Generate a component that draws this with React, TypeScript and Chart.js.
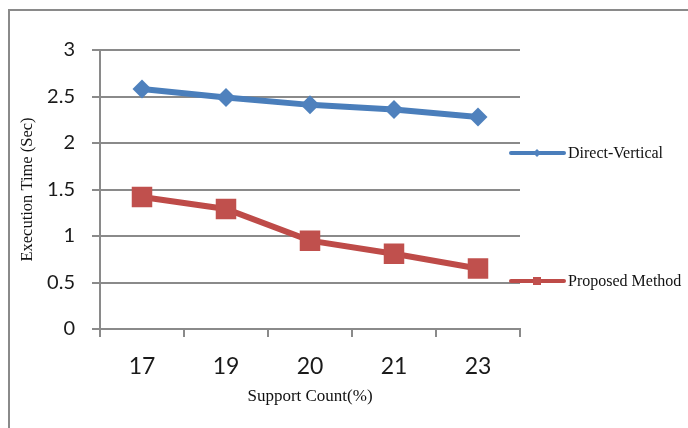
import React, { useEffect, useRef } from "react";
import { Chart, registerables } from "chart.js";

Chart.register(...registerables);

const categories = ["17", "19", "20", "21", "23"];
const directVertical = [2.58, 2.49, 2.41, 2.36, 2.28];
const proposedMethod = [1.42, 1.29, 0.95, 0.81, 0.65];
const seriesNames = ["Direct-Vertical", "Proposed Method"];
const yTitle = "Execution Time (Sec)";
const xTitle = "Support Count(%)";

const BLUE = "#4a7ebb";
const BLUE_M = "#4f81bd";
const RED = "#be4b48";
const RED_M = "#c0504d";
const GRID = "#8a8a8a";

const framePlugin = {
  id: "frame",
  beforeDraw(chart: any) {
    const ctx = chart.ctx;
    ctx.save();
    ctx.strokeStyle = GRID;
    ctx.lineWidth = 2;
    ctx.beginPath();
    ctx.moveTo(9, 428);
    ctx.lineTo(9, 10);
    ctx.lineTo(688, 10);
    ctx.stroke();
    ctx.restore();
  },
};

const legendPlugin = {
  id: "sideLegend",
  afterDraw(chart: any) {
    const ctx = chart.ctx;
    const rows = [153, 281];
    chart.data.datasets.forEach((ds: any, i: number) => {
      const y = rows[i];
      ctx.save();
      ctx.strokeStyle = ds.borderColor;
      ctx.lineWidth = 4;
      ctx.lineCap = "round";
      ctx.beginPath();
      ctx.moveTo(511, y);
      ctx.lineTo(564, y);
      ctx.stroke();
      ctx.fillStyle = ds.pointBackgroundColor;
      ctx.beginPath();
      if (i === 0) {
        ctx.moveTo(537, y - 4);
        ctx.lineTo(541, y);
        ctx.lineTo(537, y + 4);
        ctx.lineTo(533, y);
        ctx.closePath();
      } else {
        ctx.rect(533, y - 4, 8, 8);
      }
      ctx.fill();
      ctx.fillStyle = "#111";
      ctx.font = "16px 'Liberation Serif'";
      ctx.textBaseline = "middle";
      ctx.textAlign = "left";
      ctx.fillText(ds.label, 568, y + 1);
      ctx.restore();
    });
  },
};

export default function App() {
  const ref = useRef<HTMLCanvasElement | null>(null);
  useEffect(() => {
    if (!ref.current) return;
    const chart = new Chart(ref.current, {
      type: "line",
      data: {
        labels: categories,
        datasets: [
          {
            label: seriesNames[0],
            data: directVertical,
            borderColor: BLUE,
            backgroundColor: BLUE_M,
            pointBackgroundColor: BLUE_M,
            pointBorderColor: BLUE_M,
            borderWidth: 6,
            pointStyle: "rectRot",
            pointRadius: 9.5,
            pointBorderWidth: 0,
            tension: 0,
          },
          {
            label: seriesNames[1],
            data: proposedMethod,
            borderColor: RED,
            backgroundColor: RED_M,
            pointBackgroundColor: RED_M,
            pointBorderColor: RED_M,
            borderWidth: 6,
            pointStyle: "rect",
            pointRadius: 14.5,
            pointBorderWidth: 0,
            tension: 0,
          },
        ],
      },
      options: {
        responsive: false,
        animation: false,
        layout: { padding: { left: 0, top: 50, right: 168, bottom: 0 } },
        plugins: {
          legend: { display: false },
          tooltip: { enabled: false },
        },
        scales: {
          x: {
            type: "category",
            offset: true,
            grid: {
              offset: true,
              drawOnChartArea: false,
              drawTicks: true,
              tickLength: 8,
              color: GRID,
              lineWidth: 2,
            },
            border: { display: true, color: GRID, width: 2 },
            ticks: {
              color: "#1a1a1a",
              font: { family: "Lato", size: 23 },
              padding: 16,
              maxRotation: 0,
            },
            title: {
              display: true,
              text: xTitle,
              color: "#111",
              font: { family: "'Liberation Serif'", size: 17, lineHeight: 1.25 },
              padding: { top: 0, bottom: 21 },
            },
            afterFit(scale: any) {
              scale.height = 99;
            },
          },
          y: {
            min: 0,
            max: 3,
            grid: {
              drawTicks: true,
              tickLength: 8,
              color: GRID,
              lineWidth: 2,
            },
            border: { display: true, color: GRID, width: 2 },
            ticks: {
              stepSize: 0.5,
              color: "#1a1a1a",
              font: { family: "Lato", size: 20 },
              padding: 17,
              callback: (v: any) => String(v),
            },
            title: {
              display: true,
              text: yTitle,
              color: "#111",
              font: { family: "'Liberation Serif'", size: 16.5, lineHeight: 1.2 },
              padding: { top: 18, bottom: 0 },
            },
            afterFit(scale: any) {
              scale.width = 100;
            },
          },
        },
      },
      plugins: [framePlugin, legendPlugin],
    });
    return () => chart.destroy();
  }, []);
  return (
    <div style={{ position: "absolute", left: 0, top: 0, width: 688, height: 428, background: "#fff" }}>
      <canvas ref={ref} width={688} height={428} />
    </div>
  );
}
